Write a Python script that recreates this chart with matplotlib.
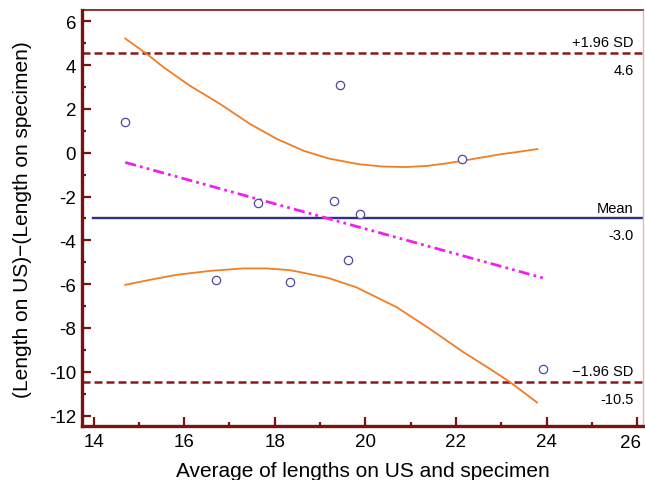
import numpy as np
import matplotlib
matplotlib.use("Agg")
import matplotlib.pyplot as plt
from matplotlib.ticker import MultipleLocator, FuncFormatter

plt.rcParams['font.family'] = ['Liberation Sans', 'DejaVu Sans']
plt.rcParams['axes.unicode_minus'] = False

# Bland-Altman points (average, difference)
avg_len = [14.70, 19.43, 22.13, 17.63, 19.30, 19.88, 19.62, 16.70, 18.34, 23.93]
diff_len = [1.39, 3.09, -0.30, -2.30, -2.19, -2.80, -4.90, -5.83, -5.90, -9.89]

# reference lines
mean_diff = -3.0
upper_loa = 4.55
lower_loa = -10.48
line_labels = [("+1.96 SD", "4.6"), ("Mean", "-3.0"), ("\u22121.96 SD", "-10.5")]

# regression line of differences
reg_x = [14.70, 23.93]
reg_y = [-0.44, -5.72]

# confidence band of the regression
upper_band_x = [14.70, 15.18, 15.55, 16.13, 16.80, 17.46, 18.05, 18.64, 19.19, 19.85,
                20.40, 20.90, 21.36, 21.80, 22.13, 22.55, 22.98, 23.40, 23.80]
upper_band_y = [5.22, 4.51, 3.90, 3.06, 2.22, 1.31, 0.63, 0.09, -0.26, -0.52,
                -0.63, -0.65, -0.60, -0.48, -0.37, -0.22, -0.07, 0.05, 0.17]
lower_band_x = [14.70, 15.32, 15.84, 16.58, 17.31, 17.83, 18.34, 18.78, 19.19, 19.81,
                20.70, 21.43, 22.17, 22.76, 23.20, 23.79]
lower_band_y = [-6.03, -5.77, -5.57, -5.39, -5.28, -5.28, -5.36, -5.54, -5.72, -6.15,
                -7.06, -8.05, -9.11, -9.88, -10.48, -11.40]

x_last_tick = 26

spine_red = '#7a1212'

fig = plt.figure(figsize=(6.45, 4.81), dpi=100)
ax = fig.add_axes([0.1267, 0.1116, 0.8703, 0.8655])

ax.axhline(upper_loa, color='#8b1a1a', lw=1.8, ls=(0, (3.2, 1.6)))
ax.axhline(lower_loa, color='#8b1a1a', lw=1.8, ls=(0, (3.2, 1.6)))
ax.axhline(mean_diff, color='#2c2f8c', lw=1.7, xmin=0.02)

ax.plot(upper_band_x, upper_band_y, color='#f27d22', lw=1.3)
ax.plot(lower_band_x, lower_band_y, color='#f27d22', lw=1.3)
ax.plot(reg_x, reg_y, color='#f020f0', lw=2.0, ls=(0, (4, 1.5, 1, 1.5, 1, 1.5)))

ax.plot(avg_len, diff_len, 'o', ms=6, mfc='white', mec='#4b4c9c', mew=0.9, zorder=5)

for (top_txt, bot_txt), yv in zip(line_labels, [upper_loa, mean_diff, lower_loa]):
    ax.annotate(top_txt, xy=(0.983, yv), xycoords=('axes fraction', 'data'),
                xytext=(0, 5), textcoords='offset points', ha='right', va='baseline',
                fontsize=10.5)
    ax.annotate(bot_txt, xy=(0.983, yv), xycoords=('axes fraction', 'data'),
                xytext=(0, -15), textcoords='offset points', ha='right', va='baseline',
                fontsize=10.5)

ax.set_xlim(13.74, 26.13)
ax.set_ylim(-12.49, 6.52)
ax.xaxis.set_major_locator(MultipleLocator(2))
ax.xaxis.set_minor_locator(MultipleLocator(1))
ax.yaxis.set_major_locator(MultipleLocator(2))
ax.yaxis.set_minor_locator(MultipleLocator(1))
# last x label is drawn separately, nudged left so it fits in the figure
ax.xaxis.set_major_formatter(FuncFormatter(
    lambda v, pos: '' if abs(v - x_last_tick) < 1e-6 else f'{v:g}'))
ax.annotate(f'{x_last_tick}', xy=(x_last_tick, 0), xycoords=('data', 'axes fraction'),
            xytext=(-4.5, -5.2), textcoords='offset points', ha='center', va='top',
            fontsize=13.5)

ax.tick_params(which='both', direction='in', color=spine_red, width=1.6, labelsize=13.5)
ax.tick_params(which='major', length=6.5)
ax.tick_params(which='minor', length=3.2)
ax.tick_params(axis='x', pad=5)
ax.tick_params(axis='y', pad=4)

for side in ['left', 'bottom']:
    ax.spines[side].set_color(spine_red)
    ax.spines[side].set_linewidth(2.4)
ax.spines['top'].set_color(spine_red)
ax.spines['top'].set_linewidth(1.2)
ax.spines['right'].set_color('#e8b4b4')
ax.spines['right'].set_linewidth(1.0)

ax.set_xlabel('Average of lengths on US and specimen', fontsize=15, labelpad=8)
ax.set_ylabel('(Length on US)\u2212(Length on specimen)', fontsize=15, labelpad=12)

plt.savefig('out.png', dpi=100)
